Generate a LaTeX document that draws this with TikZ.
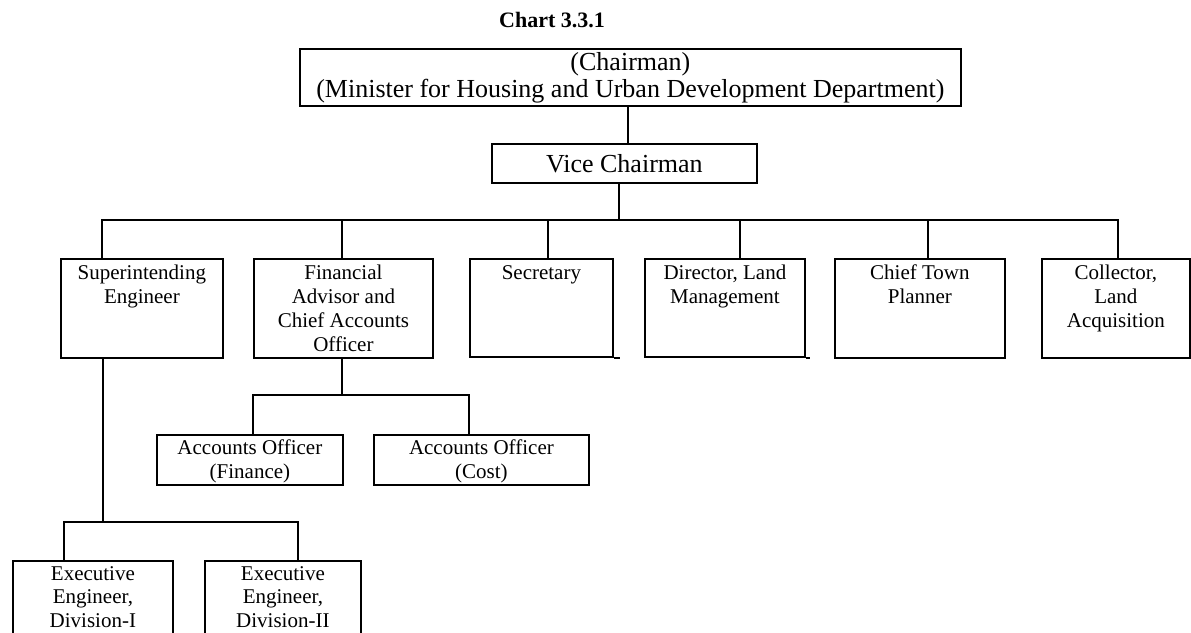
\documentclass[tikz,border=0pt]{standalone}
\usepackage{fontspec}
\setmainfont{Liberation Serif}
\begin{document}
\begin{tikzpicture}[x=1pt,y=-1pt,
  box/.style={draw, line width=1.8pt, inner sep=0pt, rectangle, anchor=north west},
  lbl/.style={font=\fontsize{21}{24}\selectfont, align=center, inner sep=0pt, anchor=north},
  conn/.style={line width=1.8pt, line join=miter}]
\useasboundingbox (0,0) rectangle (1191,632);
\clip (0,0) rectangle (1191,632);

% title
\node[font=\bfseries\fontsize{22}{26}\selectfont, anchor=base, inner sep=0pt] (title) at (552,27) {Chart 3.3.1};

% top levels
\node[box, minimum width=661pt, minimum height=57pt, font=\fontsize{26}{27}\selectfont, align=center] (top) at (299,48)
  {(Chairman)\\(Minister for Housing and Urban Development Department)};
\node[box, minimum width=265pt, minimum height=39pt, font=\fontsize{26}{28}\selectfont] (vc) at (491,143) {Vice Chairman};

% second level boxes
\node[box, minimum width=162pt, minimum height=99pt] (se)  at (60,258) {};
\node[box, minimum width=179pt, minimum height=99pt] (fa)  at (253,258) {};
\node[box, minimum width=143pt, minimum height=98pt] (sec) at (469,258) {};
\node[box, minimum width=160pt, minimum height=98pt] (dir) at (644,258) {};
\node[box, minimum width=170pt, minimum height=99pt] (ctp) at (834,258) {};
\node[box, minimum width=148pt, minimum height=99pt] (col) at (1041,258) {};

\node[lbl] (se-t)  at ([yshift=-7pt]se.north)  {Superintending\\Engineer};
\node[lbl] (fa-t)  at ([yshift=-7pt]fa.north)  {Financial\\Advisor and\\Chief Accounts\\Officer};
\node[lbl] (sec-t) at ([yshift=-7pt]sec.north) {Secretary};
\node[lbl] (dir-t) at ([yshift=-7pt]dir.north) {Director, Land\\Management};
\node[lbl] (ctp-t) at ([yshift=-7pt]ctp.north) {Chief Town\\Planner};
\node[lbl] (col-t) at ([yshift=-7pt]col.north) {Collector,\\Land\\Acquisition};

% accounts officers
\node[box, minimum width=186pt, minimum height=50pt] (fin)  at (156,434) {};
\node[box, minimum width=215pt, minimum height=50pt] (cost) at (373,434) {};
\node[lbl] (fin-t)  at ([yshift=-6pt]fin.north)  {Accounts Officer\\(Finance)};
\node[lbl] (cost-t) at ([yshift=-6pt]cost.north) {Accounts Officer\\(Cost)};

% executive engineers
\node[box, minimum width=160pt, minimum height=100pt] (ex1) at (12,560) {};
\node[box, minimum width=156pt, minimum height=100pt] (ex2) at (204,560) {};
\node[lbl, font=\fontsize{21}{23.5}\selectfont] (ex1-t) at ([yshift=-6pt]ex1.north) {Executive\\Engineer,\\Division-I};
\node[lbl, font=\fontsize{21}{23.5}\selectfont] (ex2-t) at ([yshift=-6pt]ex2.north) {Executive\\Engineer,\\Division-II};

% connectors
\coordinate (tv) at (628,120);
\draw[conn] (tv |- top.south) -- (tv |- vc.north);
\coordinate (vcb) at (619,220);
\draw[conn] (vcb |- vc.south) -- (vcb);
\coordinate (b1) at (102,220);
\coordinate (b2) at (342,220);
\coordinate (b3) at (548,220);
\coordinate (b4) at (740,220);
\coordinate (b5) at (928,220);
\coordinate (b6) at (1118,220);
\draw[conn] (b1 |- se.north) -- (b1) -- (b6) -- (b6 |- col.north);
\draw[conn] (b2) -- (b2 |- fa.north);
\draw[conn] (b3) -- (b3 |- sec.north);
\draw[conn] (b4) -- (b4 |- dir.north);
\draw[conn] (b5) -- (b5 |- ctp.north);

\coordinate (f1) at (253,395);
\coordinate (f2) at (469,395);
\coordinate (fv) at (342,395);
\draw[conn] (fv |- fa.south) -- (fv);
\draw[conn] (f1 |- fin.north) -- (f1) -- (f2) -- (f2 |- cost.north);

\coordinate (sv) at (103,522);
\coordinate (s1) at (64,522);
\coordinate (s2) at (298,522);
\draw[conn] (sv |- se.south) -- (sv);
\draw[conn] (s1 |- ex1.north) -- (s1) -- (s2) -- (s2 |- ex2.north);

% small overshoots of bottom edges
\draw[conn] (sec.south east) -- ++(6,0);
\draw[conn] (dir.south east) -- ++(4,0);
\end{tikzpicture}
\end{document}
